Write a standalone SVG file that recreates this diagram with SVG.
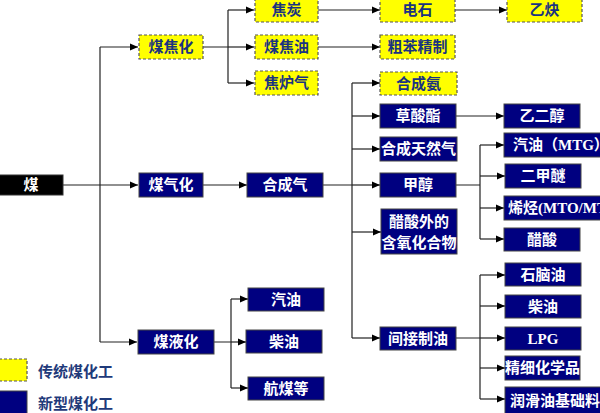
<svg xmlns="http://www.w3.org/2000/svg" width="600" height="413" viewBox="0 0 600 413">
<defs>
<marker id="ah" markerUnits="userSpaceOnUse" markerWidth="8" markerHeight="8" refX="8" refY="4" orient="auto">
<path d="M0,0.5 L8,4 L0,7.5 Z" fill="#000"/>
</marker>
<style>
.y rect{fill:#ffff00;stroke:#555;stroke-width:1.2;stroke-dasharray:3,2}
.n rect{fill:#000080;stroke:#444;stroke-width:1}
.b rect{fill:#000;stroke:#333;stroke-width:1}
text{font-family:"Liberation Serif","Noto Sans CJK SC",serif;font-weight:bold;font-size:15px;text-anchor:middle}
.y text{fill:#1a3380}
.n text,.b text{fill:#fff}
.lg{fill:#1f3a7a;text-anchor:start}
#conn path{fill:none;stroke:#222;stroke-width:1.2}
#conn .a{marker-end:url(#ah)}
</style>
</defs>
<g id="conn">
<path d="M63,185 H100"/>
<path d="M100,47 V342"/>
<path class="a" d="M100,47 H138"/>
<path class="a" d="M100,185 H138"/>
<path class="a" d="M100,342 H137"/>
<path d="M203,47 H228 M228,10 V83"/>
<path class="a" d="M228,10 H254"/>
<path class="a" d="M228,47 H254"/>
<path class="a" d="M228,83 H254"/>
<path class="a" d="M318,10 H380"/>
<path class="a" d="M455,10 H507"/>
<path class="a" d="M318,47 H380"/>
<path class="a" d="M203,185 H247"/>
<path d="M323,185 H352 M352,83 V338"/>
<path class="a" d="M352,83 H380"/>
<path class="a" d="M352,116 H380"/>
<path class="a" d="M352,149 H380"/>
<path class="a" d="M352,185 H380"/>
<path class="a" d="M352,232 H381"/>
<path class="a" d="M352,338 H380"/>
<path class="a" d="M456,116 H504"/>
<path d="M456,185 H480 M480,145 V239"/>
<path class="a" d="M480,145 H504"/>
<path class="a" d="M480,176 H505"/>
<path class="a" d="M480,208 H504"/>
<path class="a" d="M480,239 H504"/>
<path d="M456,338 H480 M480,275 V399"/>
<path class="a" d="M480,275 H505"/>
<path class="a" d="M480,306 H505"/>
<path class="a" d="M480,338 H505"/>
<path class="a" d="M480,368 H505"/>
<path class="a" d="M480,399 H505"/>
<path d="M214,342 H231 M231,299 V388"/>
<path class="a" d="M231,299 H248"/>
<path class="a" d="M231,342 H246"/>
<path class="a" d="M231,388 H248"/>
</g>
<g id="n-mei" class="b"><rect x="-1" y="175" width="64" height="20"/><text x="31" y="190">煤</text></g>
<g id="n-meijiaohua" class="y"><rect x="139" y="35" width="64" height="24"/><text x="171" y="52">煤焦化</text></g>
<g id="n-meiqihua" class="n"><rect x="139" y="173" width="64" height="24"/><text x="171" y="190">煤气化</text></g>
<g id="n-meiyehua" class="n"><rect x="138" y="330" width="76" height="24"/><text x="176" y="347">煤液化</text></g>
<g id="n-jiaotan" class="y"><rect x="255" y="-1" width="63" height="23"/><text x="286.5" y="15">焦炭</text></g>
<g id="n-meijiaoyou" class="y"><rect x="255" y="35" width="63" height="24"/><text x="286.5" y="52">煤焦油</text></g>
<g id="n-jiaoluqi" class="y"><rect x="255" y="71" width="63" height="24"/><text x="286.5" y="88">焦炉气</text></g>
<g id="n-dianshi" class="y"><rect x="380" y="-1" width="75" height="23"/><text x="417.5" y="15">电石</text></g>
<g id="n-yique" class="y"><rect x="507" y="-1" width="75" height="23"/><text x="544.5" y="15">乙炔</text></g>
<g id="n-cuben" class="y"><rect x="380" y="35" width="75" height="24"/><text x="417.5" y="52">粗苯精制</text></g>
<g id="n-hechengqi" class="n"><rect x="247" y="173" width="76" height="24"/><text x="285" y="190">合成气</text></g>
<g id="n-hechengan" class="y"><rect x="380" y="72" width="77" height="23"/><text x="418.5" y="89">合成氨</text></g>
<g id="n-caosuanzhi" class="n"><rect x="380" y="104" width="76" height="24"/><text x="418" y="121">草酸酯</text></g>
<g id="n-tianranqi" class="n"><rect x="380" y="137" width="77" height="24"/><text x="418.5" y="154">合成天然气</text></g>
<g id="n-jiachun" class="n"><rect x="380" y="173" width="76" height="24"/><text x="418" y="190">甲醇</text></g>
<g id="n-hanyang" class="n"><rect x="381" y="209" width="76" height="45"/><text x="419" y="227">醋酸外的</text><text x="419" y="248">含氧化合物</text></g>
<g id="n-jianjie" class="n"><rect x="380" y="327" width="76" height="23"/><text x="418" y="344">间接制油</text></g>
<g id="n-yierchun" class="n"><rect x="504" y="104" width="76" height="24"/><text x="542" y="121">乙二醇</text></g>
<g id="n-mtg" class="n"><rect x="504" y="133" width="100" height="24"/><text x="504" y="150" style="text-anchor:start"><tspan x="513">汽油（MTG）</tspan></text></g>
<g id="n-erjiami" class="n"><rect x="505" y="164" width="76" height="24"/><text x="543" y="181">二甲醚</text></g>
<g id="n-mto" class="n"><rect x="504" y="196" width="100" height="24"/><text x="508" y="213" style="text-anchor:start">烯烃(MTO/MTP)</text></g>
<g id="n-cusuan" class="n"><rect x="504" y="228" width="76" height="23"/><text x="542" y="245">醋酸</text></g>
<g id="n-shinaoyou" class="n"><rect x="505" y="263" width="76" height="23"/><text x="543" y="280">石脑油</text></g>
<g id="n-chaiyou2" class="n"><rect x="505" y="295" width="76" height="23"/><text x="543" y="312">柴油</text></g>
<g id="n-lpg" class="n"><rect x="505" y="327" width="76" height="23"/><text x="543" y="344">LPG</text></g>
<g id="n-jingxi" class="n"><rect x="505" y="356" width="75" height="24"/><text x="542.5" y="373">精细化学品</text></g>
<g id="n-runhua" class="n"><rect x="505" y="387" width="100" height="28"/><text x="510" y="406" style="text-anchor:start">润滑油基础料</text></g>
<g id="n-qiyou" class="n"><rect x="248" y="288" width="76" height="23"/><text x="286" y="305">汽油</text></g>
<g id="n-chaiyou" class="n"><rect x="246" y="330" width="76" height="23"/><text x="284" y="347">柴油</text></g>
<g id="n-hangmei" class="n"><rect x="248" y="377" width="76" height="23"/><text x="286" y="394">航煤等</text></g>
<g id="legend">
<g class="y"><rect x="-1" y="359" width="28" height="22"/></g>
<text class="lg" x="38" y="377">传统煤化工</text>
<g class="n"><rect x="-1" y="391" width="28" height="23"/></g>
<text class="lg" x="38" y="409">新型煤化工</text>
</g>
</svg>
